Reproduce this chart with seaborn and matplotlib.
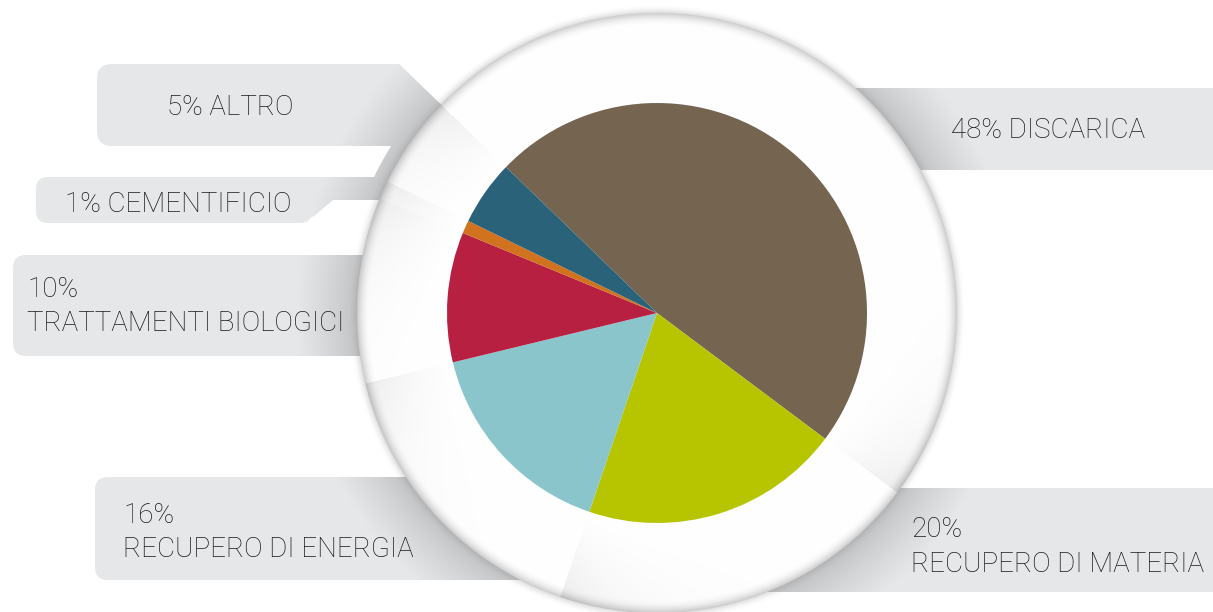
import numpy as np
import matplotlib
matplotlib.use("Agg")
import matplotlib.pyplot as plt
import seaborn as sns
from matplotlib.patches import FancyBboxPatch, Wedge, Polygon

# --- data -----------------------------------------------------------------
categories = ["DISCARICA", "RECUPERO DI MATERIA", "RECUPERO DI ENERGIA",
              "TRATTAMENTI BIOLOGICI", "CEMENTIFICIO", "ALTRO"]
shares = [48, 20, 16, 10, 1, 5]
colors = ["#756550", "#b7c400", "#8bc5cc", "#b82042", "#d0721e", "#2a6279"]

# --- geometry (canvas pixels, y measured upwards) --------------------------
W, H = 1213, 612
CX, CY = 657, H - 313
R_PIE = 210
R_DISC = 300
START = 136

sns.set_theme(style="white")
plt.rcParams["font.family"] = ["Roboto", "DejaVu Sans"]

fig = plt.figure(figsize=(W / 100, H / 100), dpi=100)
ax = fig.add_axes([0, 0, 1, 1])

# pixel grid for gradient fills
yy, xx = np.mgrid[0:H, 0:W]
gx = xx + 0.5 - CX
gy = (H - (yy + 0.5)) - CY
rr = np.hypot(gx, gy)
th = np.degrees(np.arctan2(gy, gx)) % 360

# label plates: light grey, darkening in the shadow of the disc
light = np.array([0xe6, 0xe7, 0xe8]) / 255
dark = np.array([0xbc, 0xbd, 0xbf]) / 255
t = np.clip((rr - R_DISC + 2) / 62, 0, 1) ** 0.75
plate_img = dark[None, None, :] + (light - dark)[None, None, :] * t[..., None]


def fill_plate(patch):
    ax.add_patch(patch)
    im = ax.imshow(plate_img, extent=(0, W, 0, H), origin="upper",
                   interpolation="bilinear", zorder=1)
    im.set_clip_path(patch)


def plate(x0, top, x1, bottom, rounding=13):
    return FancyBboxPatch((x0, H - bottom), x1 - x0, bottom - top,
                          boxstyle=f"round,pad=0,rounding_size={rounding}",
                          linewidth=0, facecolor="none", edgecolor="none")


def poly(points):
    return Polygon([(x, H - y) for x, y in points], closed=True,
                   linewidth=0, facecolor="none", edgecolor="none")


# wedge angle ranges (counter-clockwise degrees)
cum = np.concatenate([[0], np.cumsum(shares)])
theta_hi = START - 3.6 * cum[:-1]
theta_lo = START - 3.6 * cum[1:]
span = {c: (lo, hi) for c, lo, hi in zip(categories, theta_lo, theta_hi)}

fill_plate(plate(830, 88, 1240, 170))        # discarica
fill_plate(plate(750, 488, 1240, 592))       # recupero di materia
fill_plate(plate(95, 477, 580, 580))         # recupero di energia
fill_plate(plate(13, 255, 450, 356))         # trattamenti biologici
fill_plate(plate(36, 177, 312, 223, 12))     # cementificio
fill_plate(poly([(290, 177), (430, 177), (430, 200), (333, 200),
                 (314, 216), (300, 223), (290, 223)]))
fill_plate(plate(97, 64, 470, 146, 15))      # altro
for name in ["ALTRO", "CEMENTIFICIO"]:
    lo, hi = span[name]
    fill_plate(Wedge((CX, CY), R_DISC + 14, lo, hi, linewidth=0,
                     facecolor="none", edgecolor="none"))

# the "altro" plate is cut along the first slice boundary
ang = np.radians(START)
p_a = (CX + 210 * np.cos(ang), CY + 210 * np.sin(ang))
p_b = (CX + 460 * np.cos(ang), CY + 460 * np.sin(ang))
ax.add_patch(Polygon([p_a, p_b, (720, p_b[1]), (720, p_a[1])], closed=True,
                     facecolor="white", edgecolor="none", zorder=1.5))

# --- white disc behind the pie, with rim shading and soft light bands ------
bounds = theta_hi % 360
d = np.min([(th - b) % 360 for b in bounds], axis=0)
radial = np.clip((rr - R_PIE) / (R_DISC - R_PIE), 0, 1) ** 1.3
band = 0.075 * np.exp(-d / 14.0) * radial
rim = 0.20 * np.clip((rr - (R_DISC - 13)) / 13, 0, 1) ** 2
grey_in = 1.0 - band - rim
inside = np.clip(R_DISC - rr + 0.5, 0, 1)
sh = np.clip(1 - (rr - R_DISC) / 9, 0, 1) ** 2 * 0.35 * (rr >= R_DISC - 1)
alpha = inside + (1 - inside) * sh
val = np.where(alpha > 0, (inside * grey_in + (1 - inside) * sh * 0.6)
               / np.maximum(alpha, 1e-6), 1.0)
disc = np.dstack([val, val, val * 1.004, alpha]).clip(0, 1)
ax.imshow(disc, extent=(0, W, 0, H), origin="upper",
          interpolation="bilinear", zorder=2)

# --- pie -------------------------------------------------------------------
ax.pie(shares, colors=colors, startangle=START, counterclock=False,
       center=(CX, CY), radius=R_PIE,
       wedgeprops=dict(linewidth=0, zorder=3, antialiased=True))

# --- labels ----------------------------------------------------------------
txt = dict(fontsize=20, fontweight="light", color="#1b1b1b", ha="left",
           va="baseline", zorder=5)
ax.text(167, H - 115, f"{shares[5]}% {categories[5]}", **txt)
ax.text(951, H - 138, f"{shares[0]}% {categories[0]}", **txt)
ax.text(65, H - 212, f"{shares[4]}% {categories[4]}", **txt)
ax.text(27, H - 297, f"{shares[3]}%", **txt)
ax.text(27, H - 331, categories[3], **txt)
ax.text(123, H - 523, f"{shares[2]}%", **txt)
ax.text(123, H - 557, categories[2], **txt)
ax.text(911, H - 537, f"{shares[1]}%", **txt)
ax.text(911, H - 572, categories[1], **txt)

ax.set_xlim(0, W)
ax.set_ylim(0, H)
ax.set_aspect("auto")
ax.axis("off")
fig.savefig("out.png", dpi=100, facecolor="white")
